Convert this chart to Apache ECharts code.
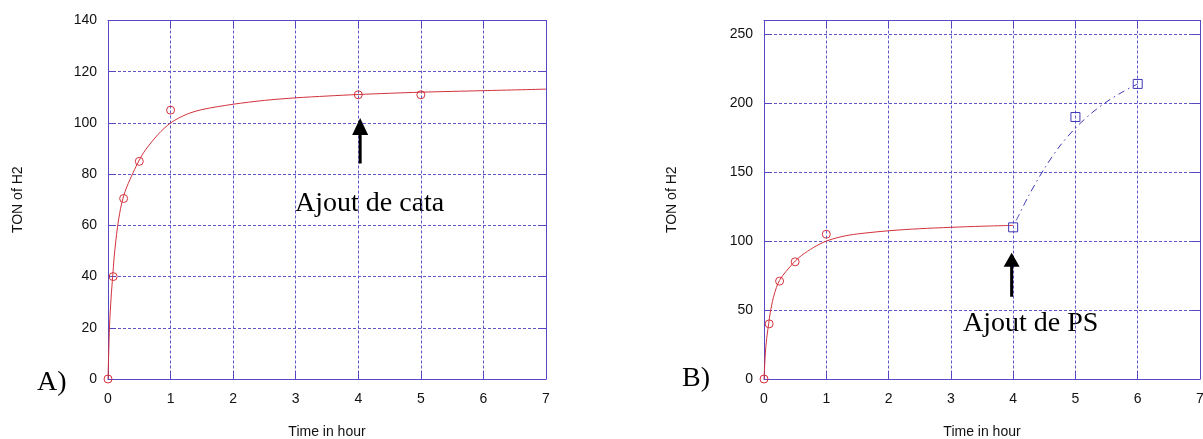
<!DOCTYPE html>
<html><head><meta charset="utf-8">
<script src="https://cdn.jsdelivr.net/npm/echarts@6/dist/echarts.min.js"></script>
<style>html,body{margin:0;padding:0;background:#fff}#c{width:1203px;height:439px}</style>
</head><body><div id="c"></div>
<script>
// ---- data ----
// Panel A: measured TON of H2 (red circles)
const timeA = [0, 0.083, 0.25, 0.5, 1, 4, 5];
const tonA = [0, 40, 70.5, 85, 105, 111, 111];
// Panel A: fitted red curve
const fitTimeA = [0, 0.01, 0.025, 0.05, 0.075, 0.1, 0.15, 0.2, 0.25, 0.3, 0.4, 0.5, 0.6, 0.8, 1, 1.25, 1.5, 2, 2.5, 3, 3.5, 4, 5, 6, 7];
const fitTonA = [0, 9, 21, 32, 40, 48, 59, 66.5, 71.5, 75, 80.5, 85.5, 89.5, 95.5, 100, 103.3, 105.2, 107.3, 108.8, 109.8, 110.5, 111.1, 112, 112.6, 113.2];
// Panel B: measured TON before PS addition (red circles)
const timeB = [0, 0.083, 0.25, 0.5, 1];
const tonB = [0, 40, 71, 85, 105];
// Panel B: fitted red curve up to the PS addition
const fitTimeB = [0, 0.01, 0.025, 0.05, 0.075, 0.1, 0.15, 0.2, 0.25, 0.3, 0.4, 0.5, 0.6, 0.8, 1, 1.25, 1.5, 2, 2.5, 3, 3.5, 4];
const fitTonB = [0, 9, 21, 32, 40, 48, 59, 66.5, 71.5, 75, 80.5, 85.5, 89.5, 95.5, 100, 103.3, 105.2, 107.5, 109, 110, 110.8, 111.4];
// Panel B: after PS addition (blue squares) and dash-dot curve
const timePS = [4, 5, 6];
const tonPS = [110, 190, 214];
const fitTimePS = [4.05, 4.25, 4.5, 4.75, 5, 5.25, 5.5, 5.75, 6];
const fitTonPS = [115, 133, 152.5, 169, 182, 192.5, 201, 208, 214];
// Annotation arrows in data units: [x, tail y, head-base y, head-centre y]
const arrowA = [4.03, 84.2, 96, 98.6];
const arrowB = [3.976, 59.6, 82.5, 86.4];
const noteA = 'Ajout de cata';
const noteB = 'Ajout de PS';
const panelA = 'A)';
const panelB = 'B)';
const xName = 'Time in hour';
const yName = 'TON of H2';

const zip = (a, b) => a.map((v, i) => [v, b[i]]);

const AX = '#5548c2';
const GRIDC = '#5e56c6';
const RED = '#d2323c';
const BLUE = '#3e36b4';
const LBL = {color: '#111', fontFamily: 'Liberation Sans', fontSize: 14};

function xMain(g) {
  return {
    type: 'value', gridIndex: g, min: 0, max: 7, interval: 1, position: 'bottom',
    name: xName, nameLocation: 'middle', nameGap: 46,
    nameTextStyle: {color: '#111', fontFamily: 'Liberation Sans', fontSize: 14},
    axisLine: {show: true, onZero: false, lineStyle: {color: AX, width: 1}},
    axisTick: {show: true, inside: true, length: 8, lineStyle: {color: AX}},
    axisLabel: Object.assign({margin: 13}, LBL),
    splitLine: {show: true, lineStyle: {color: GRIDC, type: [3, 2], width: 1}}
  };
}
function xTop(g) {
  return {
    type: 'value', gridIndex: g, min: 0, max: 7, interval: 1, position: 'top',
    axisLine: {show: true, onZero: false, lineStyle: {color: AX, width: 1}},
    axisTick: {show: true, inside: true, length: 8, lineStyle: {color: AX}},
    axisLabel: {show: false}, splitLine: {show: false}
  };
}
function yMain(g, max, interval, gap) {
  return {
    type: 'value', gridIndex: g, min: 0, max: max, interval: interval, position: 'left',
    name: yName, nameLocation: 'middle', nameGap: gap, nameRotate: 90,
    nameTextStyle: {color: '#111', fontFamily: 'Liberation Sans', fontSize: 14},
    axisLine: {show: true, onZero: false, lineStyle: {color: AX, width: 1}},
    axisTick: {show: true, inside: true, length: 8, lineStyle: {color: AX}},
    axisLabel: Object.assign({margin: 11, showMaxLabel: max % interval === 0}, LBL),
    splitLine: {show: true, lineStyle: {color: GRIDC, type: [3, 2], width: 1}}
  };
}
function yRight(g, max, interval) {
  return {
    type: 'value', gridIndex: g, min: 0, max: max, interval: interval, position: 'right',
    axisLine: {show: true, onZero: false, lineStyle: {color: AX, width: 1}},
    axisTick: {show: true, inside: true, length: 8, lineStyle: {color: AX}},
    axisLabel: {show: false}, splitLine: {show: false}
  };
}
function arrowSeries(a, xi, yi, headW, headH) {
  return [
    {type: 'line', xAxisIndex: xi, yAxisIndex: yi, data: [[a[0], a[1]], [a[0], a[2]]],
     showSymbol: false, silent: true, lineStyle: {color: '#000', width: 3, type: 'solid', opacity: 1}, z: 5},
    {type: 'scatter', xAxisIndex: xi, yAxisIndex: yi, data: [[a[0], a[3]]], symbol: 'triangle',
     symbolSize: [headW, headH], silent: true, itemStyle: {color: '#000', opacity: 1}, z: 6}
  ];
}

const chart = echarts.init(document.getElementById('c'));
chart.setOption({
  animation: false,
  backgroundColor: '#fff',
  grid: [
    {left: 108, top: 20.5, width: 438, height: 358.5, outerBoundsMode: 'none', containLabel: false},
    {left: 764, top: 20.5, width: 436, height: 358.5, outerBoundsMode: 'none', containLabel: false}
  ],
  xAxis: [xMain(0), xTop(0), xMain(1), xTop(1)],
  yAxis: [yMain(0, 140, 20, 83), yRight(0, 140, 20), yMain(1, 260, 50, 85), yRight(1, 260, 50)],
  series: [
    {type: 'line', xAxisIndex: 0, yAxisIndex: 0, data: zip(fitTimeA, fitTonA), showSymbol: false, smooth: 0.3,
     lineStyle: {color: RED, width: 1}, z: 2},
    {type: 'scatter', xAxisIndex: 0, yAxisIndex: 0, data: zip(timeA, tonA), symbol: 'circle', symbolSize: 8,
     itemStyle: {color: 'transparent', borderColor: RED, borderWidth: 1, opacity: 1}, z: 3},
    {type: 'line', xAxisIndex: 2, yAxisIndex: 2, data: zip(fitTimeB, fitTonB), showSymbol: false, smooth: 0.3,
     lineStyle: {color: RED, width: 1}, z: 2},
    {type: 'scatter', xAxisIndex: 2, yAxisIndex: 2, data: zip(timeB, tonB), symbol: 'circle', symbolSize: 8,
     itemStyle: {color: 'transparent', borderColor: RED, borderWidth: 1, opacity: 1}, z: 3},
    {type: 'line', xAxisIndex: 2, yAxisIndex: 2, data: zip(fitTimePS, fitTonPS), showSymbol: false, smooth: 0.3,
     lineStyle: {color: BLUE, width: 1, type: [7, 4, 1.5, 4]}, z: 2},
    {type: 'scatter', xAxisIndex: 2, yAxisIndex: 2, data: zip(timePS, tonPS), symbol: 'rect', symbolSize: 9,
     itemStyle: {color: 'transparent', borderColor: BLUE, borderWidth: 1, opacity: 1}, z: 3}
  ].concat(arrowSeries(arrowA, 0, 0, 16, 17), arrowSeries(arrowB, 2, 2, 16, 14)),
  graphic: [
    {type: 'text', x: 295, y: 204, silent: true,
     style: {text: noteA, font: '28px "Liberation Serif"', fill: '#000', align: 'left', verticalAlign: 'middle'}},
    {type: 'text', x: 963, y: 324, silent: true,
     style: {text: noteB, font: '28px "Liberation Serif"', fill: '#000', align: 'left', verticalAlign: 'middle'}},
    {type: 'text', x: 37, y: 383, silent: true,
     style: {text: panelA, font: '28px "Liberation Serif"', fill: '#000', align: 'left', verticalAlign: 'middle'}},
    {type: 'text', x: 682, y: 379, silent: true,
     style: {text: panelB, font: '28px "Liberation Serif"', fill: '#000', align: 'left', verticalAlign: 'middle'}}
  ]
});
</script>
</body></html>
